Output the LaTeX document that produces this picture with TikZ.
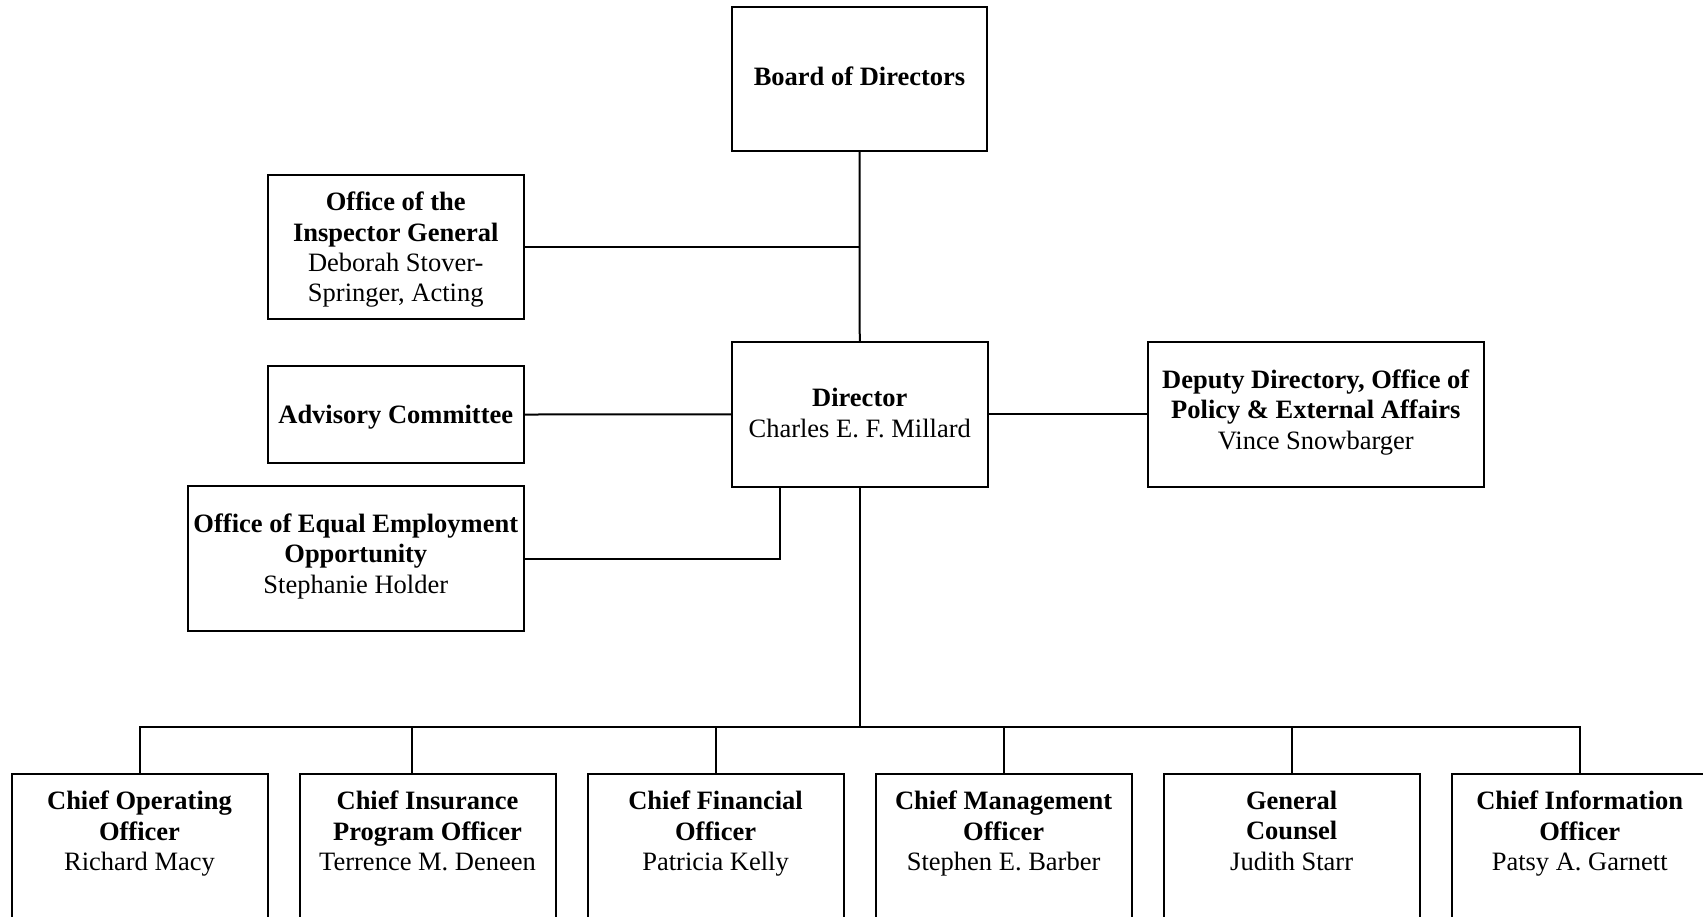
\documentclass[tikz,border=0pt]{standalone}
\usepackage{fontspec}
\setmainfont{Liberation Serif}
\newcommand\orgfs{\fontsize{26.5}{30.4}\selectfont}
\begin{document}
\begin{tikzpicture}[x=1pt,y=-1pt,
  box/.style={draw=black, line width=2pt, rectangle, inner sep=0pt},
  wbox/.style={box, minimum width=256pt, minimum height=144.2pt},
  bbox/.style={box, minimum width=256pt, minimum height=185.7pt},
  ctext/.style={inner sep=0pt, align=center, font=\orgfs},
  btext/.style={anchor=north, inner sep=0pt, align=center, font=\orgfs},
  conn/.style={draw=black, line width=2pt}]
\useasboundingbox (0,0) rectangle (1703,916);
\clip (0,0) rectangle (1703,916);
% top part
\node[box, minimum width=255pt, minimum height=144.5pt] (board) at (859.5,78.75) {};
\node[ctext] (boardt) at ([yshift=2.2pt]board.center) {\textbf{Board of Directors}};
\node[box, minimum width=255.5pt, minimum height=144pt] (oig) at (395.75,246.5) {};
\node[ctext] (oigt) at ([yshift=-3.3pt]oig.center)
  {\textbf{Office of the}\\\textbf{Inspector General}\\Deborah Stover-\\Springer, Acting};
\node[box, minimum width=255.5pt, minimum height=96.4pt] (adv) at (395.75,414.5) {};
\node[ctext] (advt) at ([yshift=-2.2pt]adv.center) {\textbf{Advisory Committee}};
\node[wbox] (dir) at (859.75,414.4) {};
\node[ctext] (dirt) at ([yshift=1.6pt]dir.center) {\textbf{Director}\\Charles E. F. Millard};
\node[box, minimum width=335.6pt, minimum height=144.2pt] (dep) at (1315.8,414.4) {};
\node[ctext] (dept) at ([yshift=2.2pt]dep.center)
  {\textbf{Deputy Directory, Office of}\\\textbf{Policy \& External Affairs}\\Vince Snowbarger};
\node[box, minimum width=335.6pt, minimum height=144.4pt] (eeo) at (355.8,558.5) {};
\node[ctext] (eeot) at ([yshift=2.2pt]eeo.center)
  {\textbf{Office of Equal Employment}\\\textbf{Opportunity}\\Stephanie Holder};
% bottom row
\foreach \i/\nm in {0/b1,1/b2,2/b3,3/b4,4/b5,5/b6}{
  \node[bbox] (\nm) at ({139.5+288.04*\i},867.15) {};
}
\node[btext] (b1t) at ([yshift=-17.7pt]b1.north) {\textbf{Chief Operating}\\\textbf{Officer}\\Richard Macy};
\node[btext] (b2t) at ([yshift=-17.7pt]b2.north) {\textbf{Chief Insurance}\\\textbf{Program Officer}\\Terrence M. Deneen};
\node[btext] (b3t) at ([yshift=-17.7pt]b3.north) {\textbf{Chief Financial}\\\textbf{Officer}\\Patricia Kelly};
\node[btext] (b4t) at ([yshift=-17.7pt]b4.north) {\textbf{Chief Management}\\\textbf{Officer}\\Stephen E. Barber};
\node[btext] (b5t) at ([yshift=-17.7pt]b5.north) {\textbf{General}\\\textbf{Counsel}\\Judith Starr};
\node[btext] (b6t) at ([yshift=-17.7pt]b6.north) {\textbf{Chief Information}\\\textbf{Officer}\\Patsy A. Garnett};
% connectors
\coordinate (busy) at (0,726.7);
\draw[conn] (board.south) -- (dir.north);
\draw[conn] (oig.east) -- (oig.east -| board.south);
\draw[conn] (adv.east) -- (dir.west);
\draw[conn] (dir.east) -- (dep.west);
\draw[conn] (eeo.east) -| ([xshift=-80pt]dir.south);
\draw[conn] (dir.south) -- (dir.south |- busy);
\draw[conn] (b1.north) -- (b1.north |- busy) -- (b6.north |- busy) -- (b6.north);
\draw[conn] ([xshift=-16pt]b2.north) -- ([xshift=-16pt]b2.north |- busy);
\draw[conn] (b3.north) -- (b3.north |- busy);
\draw[conn] (b4.north) -- (b4.north |- busy);
\draw[conn] (b5.north) -- (b5.north |- busy);
\end{tikzpicture}
\end{document}
